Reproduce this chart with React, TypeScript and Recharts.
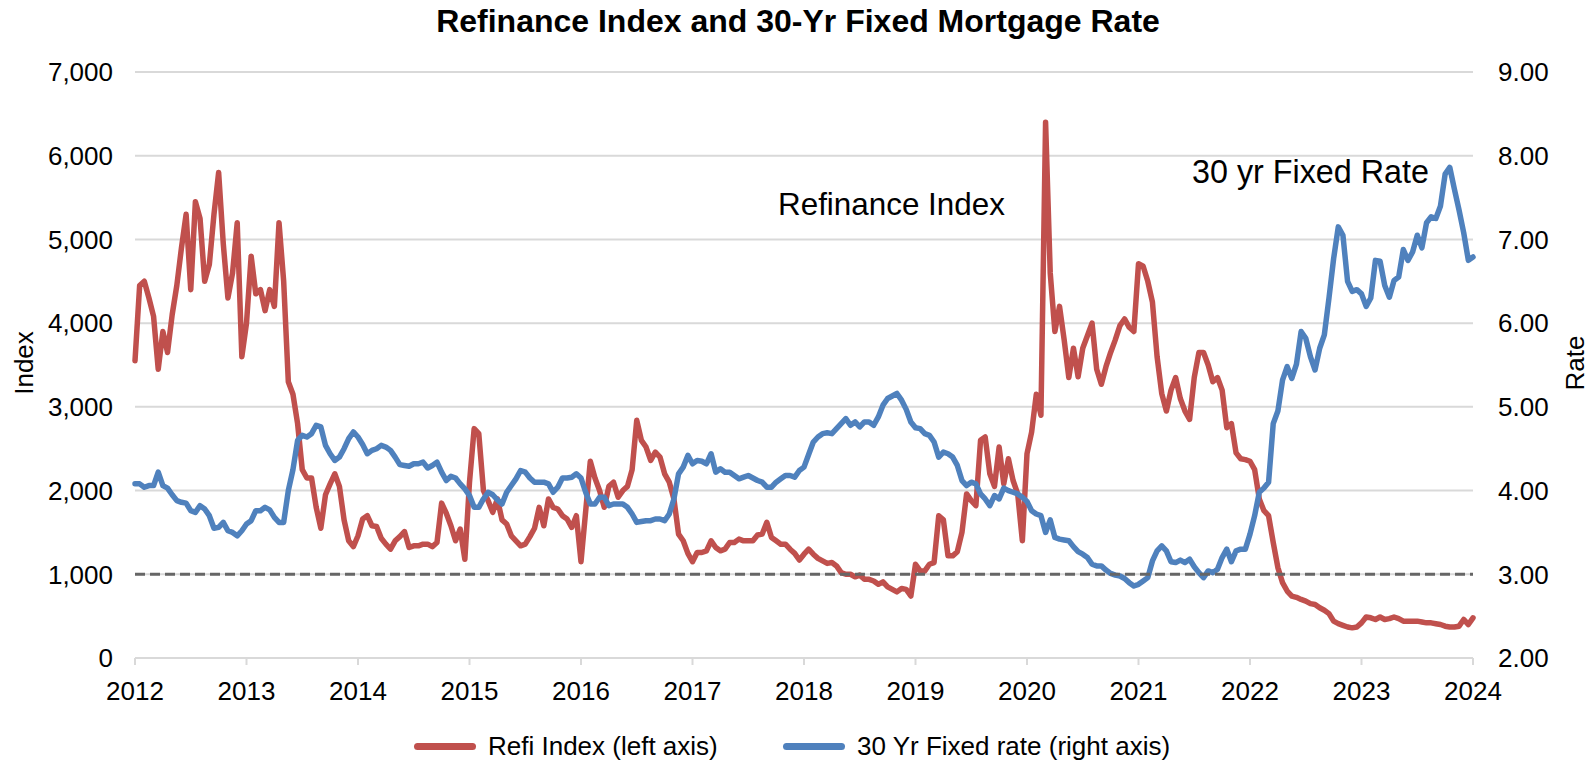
import React from "react";
import {
  LineChart,
  Line,
  XAxis,
  YAxis,
  CartesianGrid,
  ReferenceLine,
  Legend,
} from "recharts";

// semi-monthly readings, Jan 2012 .. Jan 2024 (24 per year)
const refiIndex = [
  3550, 4450, 4500, 4300, 4080, 3450, 3900, 3650, 4100, 4450, 4900, 5300,
  4400, 5450, 5250, 4500, 4700, 5300, 5800, 4950, 4300, 4600, 5200, 3600,
  4000, 4800, 4350, 4400, 4150, 4400, 4200, 5200, 4500, 3300, 3150, 2800,
  2250, 2150, 2150, 1800, 1550, 1950, 2080, 2200, 2050, 1650, 1400, 1330,
  1460, 1660, 1700, 1580, 1570, 1430, 1360, 1300, 1400, 1450, 1510, 1320,
  1340, 1340, 1360, 1360, 1330, 1380, 1850, 1730, 1580, 1400, 1540, 1180,
  2100, 2740, 2680, 2000, 1880, 1740, 1900, 1650, 1600, 1460, 1400, 1340,
  1360, 1450, 1550, 1800, 1580, 1900, 1800, 1780, 1700, 1660, 1560, 1700,
  1150, 1750, 2350, 2150, 2000, 1800, 2050, 2100, 1920, 2000, 2050, 2250,
  2840, 2600, 2520, 2360, 2460, 2400, 2200, 2100, 1900, 1480, 1400, 1250,
  1150, 1260, 1260, 1280, 1400, 1320, 1280, 1300, 1380, 1380, 1420, 1400,
  1400, 1400, 1470, 1480, 1620, 1440, 1400, 1360, 1360, 1300, 1250, 1170,
  1240, 1300, 1240, 1190, 1160, 1130, 1140, 1100, 1020, 1000, 1000, 970,
  990, 940, 940, 920, 880, 910, 850, 820, 790, 830, 820, 740,
  1120, 1040, 1040, 1120, 1140, 1700, 1650, 1220, 1220, 1270, 1500, 1960,
  1880, 1820, 2600, 2640, 2200, 2050, 2520, 2080, 2380, 2120, 1960, 1400,
  2440, 2700, 3150, 2900, 6400, 4600, 3900, 4200, 3800, 3350, 3700, 3360,
  3700, 3850, 4000, 3450, 3270, 3480, 3650, 3800, 3970, 4050, 3950, 3900,
  4710, 4680, 4500, 4250, 3600, 3160, 2950, 3200, 3350, 3100, 2950, 2850,
  3350, 3650, 3650, 3500, 3300, 3350, 3200, 2750, 2800, 2450, 2380, 2370,
  2350, 2250, 1900, 1760, 1700, 1380, 1080, 900, 800, 740, 725, 700,
  680, 650, 640, 600, 570, 530, 440, 410, 390, 370, 360, 370,
  420, 490, 480, 460, 490, 460, 470, 490, 470, 440, 440, 440,
  440, 430, 420, 420, 410, 400, 380, 370, 370, 380, 460, 400,
  480,
];

const fixedRate = [
  4.08, 4.08, 4.04, 4.06, 4.06, 4.22, 4.06, 4.03, 3.95, 3.88, 3.86, 3.85,
  3.76, 3.74, 3.82, 3.78, 3.7, 3.55, 3.56, 3.62, 3.52, 3.5, 3.46, 3.52,
  3.6, 3.64, 3.76, 3.76, 3.8, 3.77, 3.68, 3.62, 3.62, 4.0, 4.25, 4.6,
  4.66, 4.64, 4.68, 4.78, 4.76, 4.54, 4.44, 4.36, 4.4, 4.5, 4.62, 4.7,
  4.64, 4.55, 4.44, 4.48, 4.5, 4.54, 4.52, 4.48, 4.4, 4.31, 4.3, 4.29,
  4.32, 4.32, 4.34, 4.27, 4.3, 4.34, 4.22, 4.12, 4.17, 4.15, 4.08, 4.02,
  3.94, 3.8, 3.8, 3.9, 3.98, 3.95, 3.89, 3.84, 3.98, 4.06, 4.14, 4.24,
  4.22, 4.15, 4.1, 4.1, 4.1, 4.08, 3.98, 4.04, 4.15, 4.15, 4.16, 4.2,
  4.15, 3.98, 3.84, 3.84, 3.92, 3.92, 3.82, 3.84, 3.84, 3.84, 3.8, 3.72,
  3.62, 3.63, 3.64, 3.64, 3.66, 3.66, 3.64, 3.72, 3.9, 4.2, 4.28, 4.42,
  4.32, 4.36, 4.35, 4.32, 4.44, 4.22, 4.26, 4.22, 4.22, 4.18, 4.14, 4.16,
  4.18, 4.15, 4.12, 4.1, 4.04, 4.04, 4.1, 4.14, 4.18, 4.18, 4.16, 4.24,
  4.28, 4.43, 4.58, 4.64, 4.68, 4.69, 4.68, 4.74, 4.8, 4.86, 4.78, 4.82,
  4.76, 4.82, 4.82, 4.78, 4.88, 5.02, 5.1, 5.13, 5.16, 5.08, 4.97, 4.82,
  4.75, 4.74, 4.68, 4.66, 4.58, 4.4, 4.46, 4.44, 4.4, 4.3, 4.12, 4.06,
  4.1, 4.08, 3.96, 3.9, 3.82, 3.94, 3.9, 4.03, 4.0, 3.98, 3.96, 3.92,
  3.87, 3.76, 3.72, 3.7, 3.5, 3.65, 3.44, 3.42, 3.41, 3.4, 3.33, 3.27,
  3.24, 3.2, 3.12, 3.1, 3.1, 3.05, 3.01, 2.99, 2.98, 2.95, 2.9, 2.86,
  2.88, 2.92, 2.96, 3.16, 3.28, 3.34, 3.28, 3.15, 3.14, 3.17, 3.14, 3.18,
  3.09, 3.02, 2.96, 3.04, 3.02, 3.06, 3.2, 3.3, 3.15, 3.28, 3.3, 3.3,
  3.48, 3.7, 3.98, 4.03, 4.1, 4.8, 4.95, 5.32, 5.48, 5.34, 5.51, 5.9,
  5.82, 5.6, 5.44, 5.7, 5.86, 6.3, 6.77, 7.15, 7.05, 6.5, 6.38, 6.4,
  6.35, 6.2, 6.3, 6.75, 6.74, 6.45, 6.31, 6.51, 6.55, 6.88, 6.75, 6.85,
  7.05, 6.9, 7.2, 7.27, 7.25, 7.4, 7.78, 7.86, 7.6, 7.35, 7.08, 6.75,
  6.79,
];

const yearTicks = [
  2012, 2013, 2014, 2015, 2016, 2017, 2018, 2019, 2020, 2021, 2022, 2023, 2024,
];
const indexTicks = [0, 1000, 2000, 3000, 4000, 5000, 6000, 7000];
const rateTicks = [2, 3, 4, 5, 6, 7, 8, 9];

const RED = "#C0504D";
const BLUE = "#4F81BD";
const FONT = "'Liberation Sans', Arial, sans-serif";

const data = refiIndex.map((v, i) => ({
  t: 2012 + i / 24,
  refi: v,
  rate: fixedRate[i],
}));

const legendItems = [
  { label: "Refi Index (left axis)", color: RED, x: 414 },
  { label: "30 Yr Fixed rate (right axis)", color: BLUE, x: 783 },
];

function LegendBox() {
  return (
    <div style={{ position: "relative", width: 1595, height: 40 }}>
      {legendItems.map((it) => (
        <div
          key={it.label}
          style={{
            position: "absolute",
            left: it.x,
            top: 0,
            height: 40,
            display: "flex",
            alignItems: "center",
            fontFamily: FONT,
            fontSize: 26,
            color: "#000",
          }}
        >
          <span
            style={{
              display: "inline-block",
              width: 62,
              height: 7,
              borderRadius: 4,
              background: it.color,
              marginRight: 12,
            }}
          />
          {it.label}
        </div>
      ))}
    </div>
  );
}

export default function App() {
  return (
    <div style={{ position: "relative", width: 1595, height: 760, fontFamily: FONT }}>
      <style>{"body{margin:0}"}</style>
      <LineChart
        width={1595}
        height={760}
        data={data}
        margin={{ top: 72, right: 0, bottom: 2, left: 0 }}
      >
        <CartesianGrid
          yAxisId="left"
          vertical={false}
          stroke="#d9d9d9"
          strokeWidth={2}
        />
        <XAxis
          dataKey="t"
          type="number"
          domain={[2012, 2024]}
          ticks={yearTicks}
          interval={0}
          height={60}
          axisLine={{ stroke: "#d9d9d9", strokeWidth: 2 }}
          tickLine={{ stroke: "#d9d9d9", strokeWidth: 2 }}
          tickSize={7}
          tickMargin={17}
          tick={{ fontSize: 26, fill: "#000", fontFamily: FONT }}
        />
        <YAxis
          yAxisId="left"
          orientation="left"
          width={135}
          domain={[0, 7000]}
          ticks={indexTicks}
          interval={0}
          axisLine={false}
          tickLine={false}
          tickSize={0}
          tickMargin={22}
          tickFormatter={(v: number) => v.toLocaleString("en-US")}
          tick={{ fontSize: 26, fill: "#000", fontFamily: FONT }}
        />
        <YAxis
          yAxisId="right"
          orientation="right"
          width={122}
          domain={[2, 9]}
          ticks={rateTicks}
          interval={0}
          axisLine={false}
          tickLine={false}
          tickSize={0}
          tickMargin={25}
          tickFormatter={(v: number) => v.toFixed(2)}
          tick={{ fontSize: 26, fill: "#000", fontFamily: FONT }}
        />
        <Line
          yAxisId="left"
          type="linear"
          dataKey="refi"
          stroke={RED}
          strokeWidth={5.5}
          strokeLinejoin="round"
          strokeLinecap="round"
          dot={false}
          isAnimationActive={false}
        />
        <Line
          yAxisId="right"
          type="linear"
          dataKey="rate"
          stroke={BLUE}
          strokeWidth={5.5}
          strokeLinejoin="round"
          strokeLinecap="round"
          dot={false}
          isAnimationActive={false}
        />
        <ReferenceLine
          yAxisId="left"
          y={1000}
          stroke="#666"
          strokeWidth={3}
          strokeDasharray="10 5"
        />
        <Legend
          verticalAlign="bottom"
          content={() => <LegendBox />}
          wrapperStyle={{ top: 726, left: 0, width: 1595, height: 40 }}
        />
      </LineChart>
      <svg
        width={1595}
        height={760}
        style={{ position: "absolute", left: 0, top: 0, pointerEvents: "none" }}
        fontFamily={FONT}
      >
        <text x={798} y={32} fontSize={32} fontWeight="bold" textAnchor="middle">
          Refinance Index and 30-Yr Fixed Mortgage Rate
        </text>
        <text x={778} y={215} fontSize={31.4}>
          Refinance Index
        </text>
        <text x={1192} y={183} fontSize={32.3}>
          30 yr Fixed Rate
        </text>
        <text transform="translate(33,363) rotate(-90)" fontSize={26} textAnchor="middle">
          Index
        </text>
        <text transform="translate(1584,363) rotate(-90)" fontSize={26} textAnchor="middle">
          Rate
        </text>
      </svg>
    </div>
  );
}
